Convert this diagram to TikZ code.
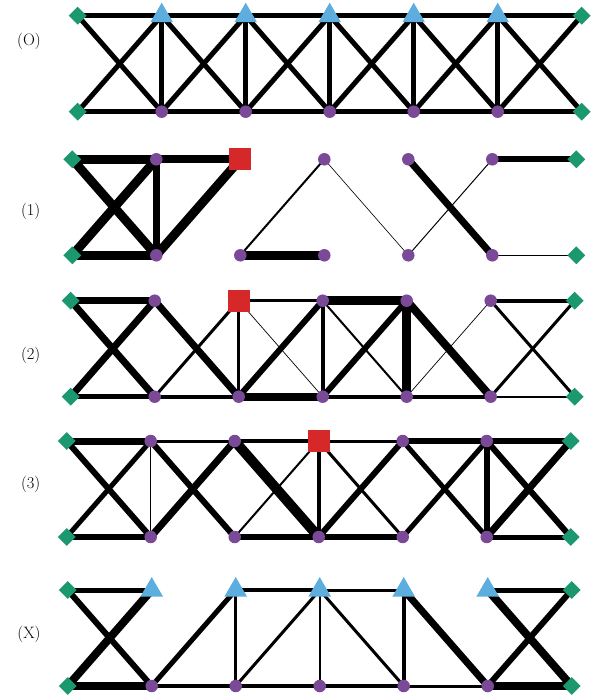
\documentclass[tikz,border=0pt]{standalone}
\usetikzlibrary{shapes.geometric,backgrounds}
\definecolor{gemgreen}{RGB}{27,152,112}
\definecolor{triblue}{RGB}{93,174,222}
\definecolor{dotpurple}{RGB}{122,74,152}
\definecolor{loadred}{RGB}{214,40,40}
\begin{document}
\begin{tikzpicture}[x=1pt, y=-1pt,
  gem/.style={diamond, fill=gemgreen, inner sep=0pt, minimum size=18pt},
  tri/.style={regular polygon, regular polygon sides=3, fill=triblue, inner sep=0pt, minimum size=26pt},
  dot/.style={circle, fill=dotpurple, inner sep=0pt, minimum size=12.5pt},
  load/.style={rectangle, fill=loadred, inner sep=0pt, minimum size=22pt},
  tag/.style={font=\fontsize{16.5}{18}\selectfont},
  bar/.style={line width=#1pt, black}]
  \useasboundingbox (0,0) rectangle (594,698);

  % Supports and free joints of every row
  \foreach \r/\x/\y in {rO/77.7/15.7, r1/72.3/159.3, r2/70.7/300.7, r3/66.7/441, rX/67.7/590} {
    \node[gem] (\r-t0) at (\x,\y) {};
    \node[gem] (\r-t6) at (\x+504,\y) {};
    \node[gem] (\r-b0) at (\x,\y+96) {};
    \node[gem] (\r-b6) at (\x+504,\y+96) {};
    \foreach \i in {1,...,5}
      \node[dot] (\r-b\i) at (\x+84*\i,\y+96) {};
  }

  % Top joints
  \foreach \i in {1,...,5} {
    \node[tri] (rO-t\i) at (77.7+84*\i,15.7) {};
    \node[tri] (rX-t\i) at (67.7+84*\i,590) {};
  }
  \foreach \i in {1,3,4,5}
    \node[dot] (r1-t\i) at (72.3+84*\i,159.3) {};
  \node[load] (r1-t2) at (72.3+168,159.3) {};
  \foreach \i in {1,3,4,5}
    \node[dot] (r2-t\i) at (70.7+84*\i,300.7) {};
  \node[load] (r2-t2) at (70.7+168,300.7) {};
  \foreach \i in {1,2,4,5}
    \node[dot] (r3-t\i) at (66.7+84*\i,441) {};
  \node[load] (r3-t3) at (66.7+252,441) {};

  % Labels
  \node[tag] (lO) at (29,41) {(O)};
  \node[tag] (l1) at (30.7,211.7) {(1)};
  \node[tag] (l2) at (30.7,355.7) {(2)};
  \node[tag] (l3) at (30.7,484.3) {(3)};
  \node[tag] (lX) at (29,634) {(X)};

  \begin{pgfonlayer}{background}
    % Row (O)
    \foreach \i [evaluate=\i as \j using int(\i+1)] in {0,...,5} {
      \draw[bar=5] (rO-t\i.center) -- (rO-t\j.center);
      \draw[bar=5] (rO-b\i.center) -- (rO-b\j.center);
      \draw[bar=5] (rO-t\i.center) -- (rO-b\j.center);
      \draw[bar=5] (rO-b\i.center) -- (rO-t\j.center);
    }
    \foreach \i in {1,...,5}
      \draw[bar=5] (rO-t\i.center) -- (rO-b\i.center);

    % Row (1)
    \foreach \p/\q/\w in {t0/t1/9, t1/t2/8, b0/b1/9, t0/b1/9, b0/t1/9, t1/b1/7, b1/t2/9,
        b2/t3/2, b2/b3/9, t3/b4/0.6, b4/t5/1, t4/b5/7, t5/t6/6, b5/b6/1.5}
      \draw[bar=\w] (r1-\p.center) -- (r1-\q.center);

    % Row (2)
    \foreach \p/\q/\w in {t0/t1/7, b0/b1/5, t0/b1/7, b0/t1/7, t1/b2/7, b1/t2/3, b1/b2/4,
        t2/t3/3, t2/b2/3, t2/b3/0.7, b2/t3/6, b2/b3/8, t3/t4/9, t3/b3/4, t3/b4/2,
        b3/t4/6, b3/b4/4, t4/b4/9, t4/b5/8, b4/t5/0.7, b4/b5/4, t5/t6/4, t5/b6/3,
        b5/t6/3, b5/b6/2}
      \draw[bar=\w] (r2-\p.center) -- (r2-\q.center);

    % Row (3)
    \foreach \p/\q/\w in {t0/t1/7, b0/b1/6, t0/b1/6, b0/t1/5, t1/t2/3, t1/b1/1.5, t1/b2/6,
        b1/t2/7, t2/t3/4, t2/b3/10, b2/t3/2, b2/b3/6, t3/t4/3, t3/b3/4, t3/b4/3,
        b3/t4/6, b3/b4/6, t4/t5/6, t4/b5/5, b4/t5/5, t5/t6/6, t5/b5/6, t5/b6/6,
        b5/t6/7, b5/b6/5}
      \draw[bar=\w] (r3-\p.center) -- (r3-\q.center);

    % Row (X)
    \foreach \p/\q/\w in {t0/t1/5, b0/b1/8, t0/b1/6, b0/t1/8, b1/t2/5, b1/b2/4, t2/t3/4,
        t2/b2/3, b2/t3/3, b2/b3/4, t3/b3/2, t3/t4/3, t3/b4/3, b3/b4/4, t4/b4/4,
        t4/b5/7, b4/b5/3, t5/t6/5, t5/b6/8, b5/t6/6, b5/b6/8}
      \draw[bar=\w] (rX-\p.center) -- (rX-\q.center);
  \end{pgfonlayer}
\end{tikzpicture}
\end{document}
